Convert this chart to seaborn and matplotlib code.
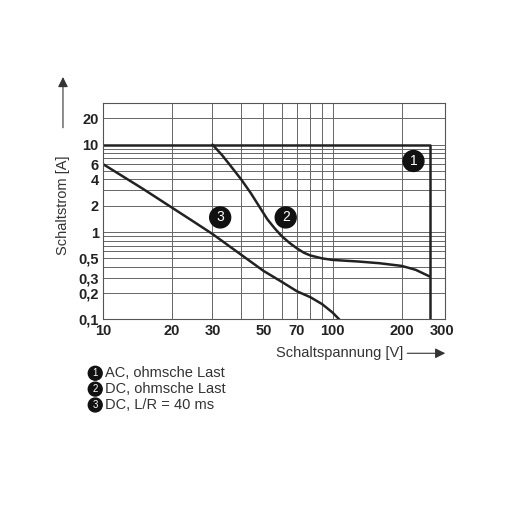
import matplotlib
matplotlib.use("Agg")
import matplotlib.pyplot as plt
import seaborn as sns
from matplotlib.ticker import FixedLocator, NullFormatter

sns.set_theme(style="white")
plt.rcParams['font.family'] = ['Liberation Sans', 'DejaVu Sans']

c1_x = [10, 265, 265]
c1_y = [10, 10, 0.1]
c2_x = [30, 33, 36, 40, 44, 48, 52, 56, 60, 65, 70, 75, 80, 90, 100, 130, 160, 200, 230, 265]
c2_y = [10, 7.6, 5.7, 4.0, 2.8, 1.95, 1.4, 1.1, 0.9, 0.75, 0.65, 0.58, 0.54, 0.5, 0.48, 0.46, 0.44, 0.41, 0.37, 0.31]
c3_x = [10, 15, 20, 25, 30, 40, 50, 60, 70, 80, 90, 100, 107]
c3_y = [6, 3.1, 1.9, 1.3, 0.95, 0.55, 0.36, 0.27, 0.21, 0.18, 0.15, 0.12, 0.1]
xticks = [10, 20, 30, 50, 70, 100, 200, 300]
xtick_labels = ["10", "20", "30", "50", "70", "100", "200", "300"]
yticks = [0.1, 0.2, 0.3, 0.5, 1, 2, 4, 6, 10, 20]
ytick_labels = ["0,1", "0,2", "0,3", "0,5", "1", "2", "4", "6", "10", "20"]
legend_labels = ["AC, ohmsche Last", "DC, ohmsche Last", "DC, L/R = 40 ms"]

fig = plt.figure(figsize=(5.12, 5.12), dpi=100)
ax = fig.add_axes([0.201, 0.376, 0.669, 0.423])
ax.set_xscale("log"); ax.set_yscale("log")
ax.set_xlim(10, 310); ax.set_ylim(0.1, 30)

for x, y in [(c1_x, c1_y), (c2_x, c2_y), (c3_x, c3_y)]:
    sns.lineplot(x=x, y=y, ax=ax, color="#222222", lw=1.8, sort=False, estimator=None)

vgrid = [20, 30, 40, 50, 60, 70, 80, 90, 100, 200]
hgrid = [0.2, 0.3, 0.4, 0.5, 0.6, 0.7, 0.8, 0.9, 1, 2, 3, 4, 5, 6, 7, 8, 9, 10, 20]
for v in vgrid:
    ax.axvline(v, color="#666666", lw=0.7, zorder=0)
for h in hgrid:
    ax.axhline(h, color="#666666", lw=0.7, zorder=0)

ax.xaxis.set_major_locator(FixedLocator(xticks))
ax.set_xticklabels(xtick_labels)
ax.xaxis.set_minor_formatter(NullFormatter())
ax.yaxis.set_major_locator(FixedLocator(yticks))
ax.set_yticklabels(ytick_labels)
ax.yaxis.set_minor_formatter(NullFormatter())
ax.tick_params(which="both", length=0, labelsize=10.5, pad=3)
for lbl in ax.get_xticklabels() + ax.get_yticklabels():
    lbl.set_fontweight("bold"); lbl.set_color("#222222")
for s in ax.spines.values():
    s.set_color("#555555"); s.set_linewidth(0.8)

circ = dict(boxstyle="circle,pad=0.25", fc="#111111", ec="#111111")
for n, (x, y) in zip(["1", "2", "3"], [(225, 6.5), (62.5, 1.47), (32.4, 1.47)]):
    ax.text(x, y, n, color="white", fontsize=10, ha="center", va="center", bbox=circ)

fig.text(0.123, 0.60, "Schaltstrom [A]", rotation=90, ha="center", va="center", fontsize=10.5, color="#333333")
fig.add_artist(matplotlib.patches.FancyArrowPatch((0.123, 0.745), (0.123, 0.855), transform=fig.transFigure,
               arrowstyle="-|>,head_length=6,head_width=3", color="#333333", lw=0.8))
fig.text(0.54, 0.31, "Schaltspannung [V]", ha="left", va="center", fontsize=10.5, color="#333333")
fig.add_artist(matplotlib.patches.FancyArrowPatch((0.79, 0.31), (0.875, 0.31), transform=fig.transFigure,
               arrowstyle="-|>,head_length=6,head_width=3", color="#333333", lw=0.8))

for i, (n, t) in enumerate(zip(["1", "2", "3"], legend_labels)):
    y = 0.271 - i * 0.031
    fig.text(0.186, y, n, color="white", fontsize=7, ha="center", va="center",
             bbox=dict(boxstyle="circle,pad=0.2", fc="#111111", ec="#111111"))
    fig.text(0.205, y, t, ha="left", va="center", fontsize=10.5, color="#333333")

fig.savefig("out.png", dpi=100, facecolor="white")
